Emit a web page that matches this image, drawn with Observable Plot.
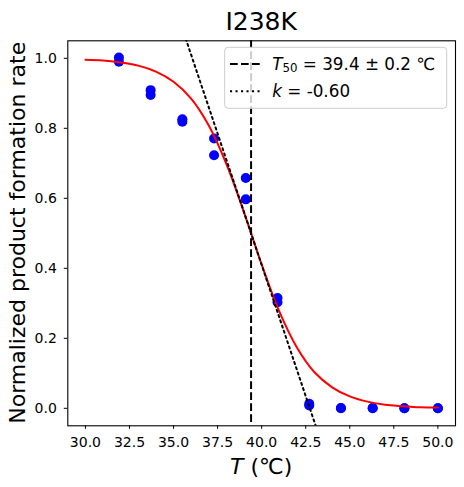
<!DOCTYPE html>
<html>
<head>
<meta charset="utf-8">
<script src="https://cdn.jsdelivr.net/npm/d3@7"></script>
<script src="https://cdn.jsdelivr.net/npm/@observablehq/plot@0.6"></script>
<style>
  html, body { margin: 0; padding: 0; background: #fff; }
  #chart svg { display: block; }
</style>
</head>
<body>
<div id="chart"></div>
<script>
// ---- data ----
const title = "I238K";
const temps = [31.9, 31.9, 33.7, 33.7, 35.5, 35.5, 37.3, 37.3, 39.1, 39.1, 40.9, 40.9, 42.7, 42.7, 44.5, 44.5, 46.3, 46.3, 48.1, 48.1, 50.0, 50.0];
const rates = [1.002, 0.990, 0.909, 0.895, 0.826, 0.819, 0.771, 0.723, 0.658, 0.597, 0.315, 0.303, 0.013, 0.008, 0.001, 0.000, 0.001, 0.000, 0.000, 0.000, 0.000, 0.000];
const fitT = [30, 31, 32, 33, 34, 35, 36, 37, 38, 39, 40, 41, 42, 43, 44, 45, 46, 47, 48, 49, 50];
const fitY = [0.996, 0.994, 0.988, 0.979, 0.962, 0.933, 0.885, 0.808, 0.698, 0.560, 0.411, 0.277, 0.174, 0.103, 0.060, 0.034, 0.019, 0.010, 0.006, 0.003, 0.002];
const tangentT = [35.0, 43.5];
const tangentY = [1.16, -0.115];
const T50 = 39.4;
const T50err = 0.2;
const kValue = -0.60;
const xTicks = [30, 32.5, 35, 37.5, 40, 42.5, 45, 47.5, 50];
const yTicks = [0, 0.2, 0.4, 0.6, 0.8, 1.0];

const points = temps.map((t, i) => ({t, r: rates[i]}));
const fit = fitT.map((t, i) => ({t, y: fitY[i]}));
const tangent = tangentT.map((t, i) => ({t, y: tangentY[i]}));

const W = 464, H = 487;
const mL = 67.3, mR = 9, mT = 40.3, mB = 61.7;
const FONT = "DejaVu Sans, sans-serif";
const DASH = "7.7,3.3";
const DOT = "2.1,3.4";

const plot = Plot.plot({
  width: W, height: H,
  marginLeft: mL, marginRight: mR, marginTop: mT, marginBottom: mB,
  style: {fontFamily: FONT, fontSize: "14px", color: "#000", background: "#fff"},
  x: {domain: [29, 51]},
  y: {domain: [-0.05, 1.05]},
  marks: [
    Plot.axisX({ticks: xTicks, tickFormat: d3.format(".1f"), tickSize: 3.5, tickPadding: 7.5, fontSize: 14, label: null, stroke: "#000", fill: "#000"}),
    Plot.axisY({ticks: yTicks, tickFormat: d3.format(".1f"), tickSize: 3.5, tickPadding: 7.5, fontSize: 14, label: null, stroke: "#000", fill: "#000"}),
    Plot.dot(points, {x: "t", y: "r", r: 5, fill: "#0000ff", stroke: "none"}),
    Plot.line(fit, {x: "t", y: "y", stroke: "#ff0000", strokeWidth: 2, curve: "catmull-rom"}),
    Plot.line(tangent, {x: "t", y: "y", stroke: "#000", strokeWidth: 2, strokeDasharray: DOT, clip: true}),
    Plot.ruleX([T50], {stroke: "#000", strokeWidth: 2, strokeDasharray: DASH}),
    Plot.frame({stroke: "#000", strokeWidth: 1.1})
  ]
});

document.getElementById("chart").appendChild(plot);

const svg = d3.select(plot);
const frameL = mL, frameR = W - mR, frameT = mT, frameB = H - mB;
const cx = (frameL + frameR) / 2, cy = (frameT + frameB) / 2;

// title
svg.append("text").attr("x", cx).attr("y", 30).attr("text-anchor", "middle")
  .attr("font-family", FONT).attr("font-size", 25).attr("fill", "#000").text(title);

// x label
const xl = svg.append("text").attr("x", cx).attr("y", 474).attr("text-anchor", "middle")
  .attr("font-family", FONT).attr("font-size", 22).attr("fill", "#000");
xl.append("tspan").attr("font-style", "italic").text("T");
xl.append("tspan").text(" (℃)");

// y label
svg.append("text").attr("transform", `translate(25,${cy}) rotate(-90)`).attr("text-anchor", "middle")
  .attr("font-family", FONT).attr("font-size", 22).attr("fill", "#000")
  .text("Normalized product formation rate");

// legend
const lg = svg.append("g").attr("text-anchor", "start");
const bx = frameR - 230.3, by = frameT + 7, bw = 222, bh = 61;
lg.append("rect").attr("x", bx).attr("y", by).attr("width", bw).attr("height", bh)
  .attr("rx", 3.5).attr("fill", "#fff").attr("fill-opacity", 0.8)
  .attr("stroke", "#cccccc").attr("stroke-width", 1);
const hx1 = bx + 5.3, hx2 = bx + 38.3, tx = bx + 47.5;
lg.append("line").attr("x1", hx1).attr("x2", hx2).attr("y1", by + 16.7).attr("y2", by + 16.7)
  .attr("stroke", "#000").attr("stroke-width", 2).attr("stroke-dasharray", DASH);
lg.append("line").attr("x1", hx1).attr("x2", hx2).attr("y1", by + 44).attr("y2", by + 44)
  .attr("stroke", "#000").attr("stroke-width", 2).attr("stroke-dasharray", DOT);
const t1 = lg.append("text").attr("x", tx).attr("y", by + 22.2).attr("text-anchor", "start")
  .attr("font-family", FONT).attr("font-size", 16.8).attr("fill", "#000");
t1.append("tspan").attr("font-style", "italic").text("T");
t1.append("tspan").attr("font-size", 11.8).attr("dy", 2.6).text("50");
t1.append("tspan").attr("dy", -2.6).text(` = ${T50.toFixed(1)} ± ${T50err.toFixed(1)} ℃`);
const t2 = lg.append("text").attr("x", tx).attr("y", by + 49.4).attr("text-anchor", "start")
  .attr("font-family", FONT).attr("font-size", 16.8).attr("fill", "#000");
t2.append("tspan").attr("font-style", "italic").text("k");
t2.append("tspan").text(` = ${kValue.toFixed(2)}`);
</script>
</body>
</html>
